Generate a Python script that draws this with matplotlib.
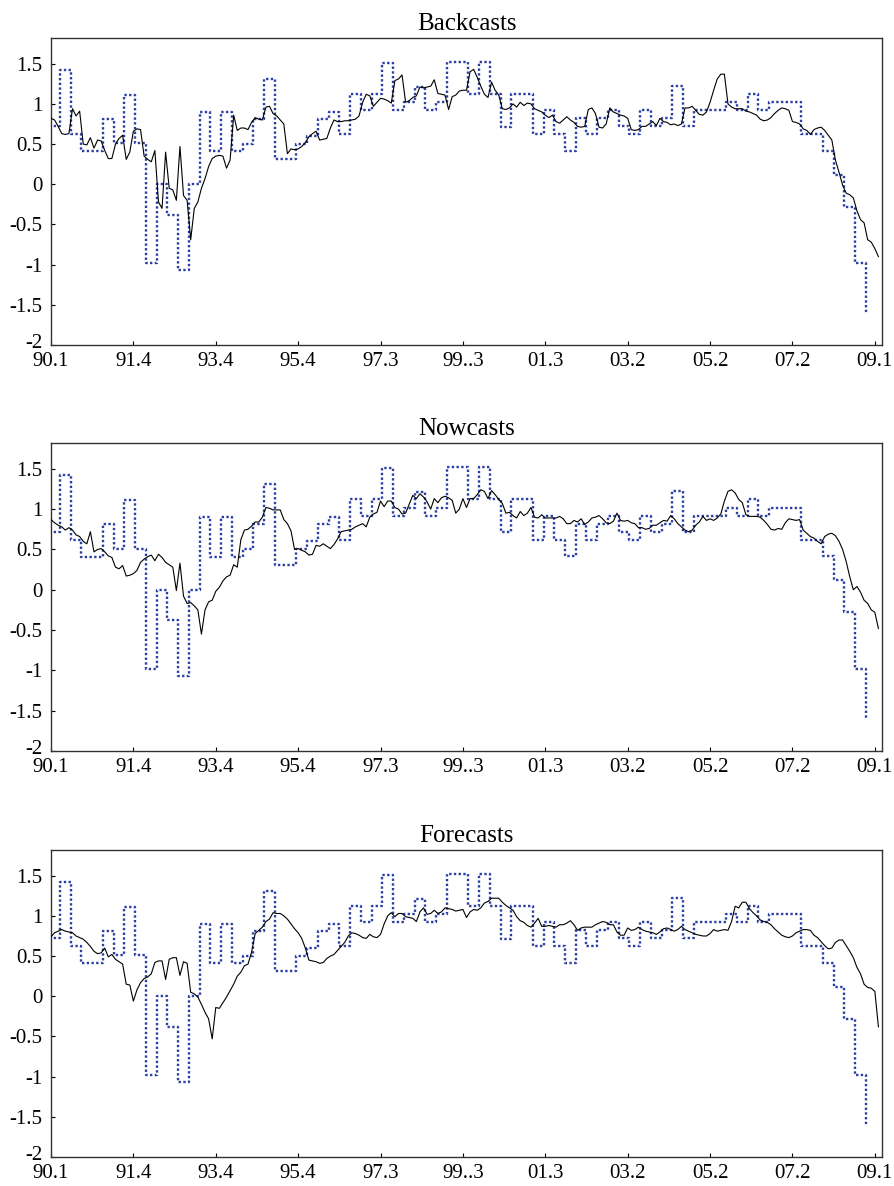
import numpy as np
import matplotlib
matplotlib.use('Agg')
import matplotlib.pyplot as plt
from matplotlib.transforms import ScaledTranslation

# Quarterly GDP growth (blue dotted step), 1990Q1 .. 2009Q1
quarterly_gdp = [
    0.72, 1.42, 0.62, 0.41, 0.41, 0.81, 0.51, 1.11, 0.51, -0.98,
    0.00, -0.38, -1.07, 0.00, 0.90, 0.41, 0.90, 0.41, 0.50, 0.81,
    1.31, 0.31, 0.31, 0.50, 0.60, 0.81, 0.90, 0.62, 1.12, 0.92,
    1.12, 1.51, 0.92, 1.02, 1.21, 0.92, 1.02, 1.52, 1.52, 1.12,
    1.52, 1.12, 0.71, 1.12, 1.12, 0.62, 0.92, 0.62, 0.42, 0.82,
    0.62, 0.82, 0.92, 0.72, 0.62, 0.92, 0.72, 0.82, 1.22, 0.72,
    0.92, 0.92, 0.92, 1.02, 0.92, 1.12, 0.92, 1.02, 1.02, 1.02,
    0.62, 0.62, 0.42, 0.12, -0.28, -0.98, -1.60,
]

# Monthly model estimates (black line)
backcasts = [
    0.82, 0.80, 0.72, 0.63, 0.62, 0.63, 0.94, 0.85, 0.91, 0.50,
    0.49, 0.58, 0.45, 0.55, 0.54, 0.42, 0.32, 0.32, 0.50, 0.57,
    0.61, 0.31, 0.40, 0.66, 0.69, 0.68, 0.35, 0.31, 0.28, 0.42,
    -0.22, -0.30, 0.40, -0.05, -0.07, -0.20, 0.47, -0.14, -0.20, -0.69,
    -0.30, -0.22, -0.05, 0.07, 0.22, 0.32, 0.35, 0.36, 0.35, 0.20,
    0.30, 0.86, 0.67, 0.70, 0.70, 0.68, 0.77, 0.83, 0.81, 0.80,
    0.96, 0.97, 0.88, 0.85, 0.80, 0.75, 0.38, 0.44, 0.43, 0.44,
    0.47, 0.52, 0.59, 0.63, 0.66, 0.55, 0.56, 0.57, 0.70, 0.80,
    0.78, 0.78, 0.79, 0.79, 0.80, 0.81, 0.85, 1.02, 1.12, 1.10,
    0.97, 1.02, 1.07, 1.06, 1.04, 1.01, 1.29, 1.31, 1.36, 1.02,
    1.04, 1.08, 1.10, 1.21, 1.20, 1.21, 1.22, 1.30, 1.13, 1.12,
    1.11, 0.93, 1.09, 1.11, 1.16, 1.17, 1.17, 1.40, 1.43, 1.33,
    1.22, 1.12, 1.08, 1.27, 1.17, 1.11, 0.94, 0.93, 0.95, 1.00,
    0.96, 1.02, 0.98, 1.01, 1.00, 0.94, 0.92, 0.90, 0.86, 0.83,
    0.86, 0.78, 0.76, 0.80, 0.84, 0.80, 0.77, 0.72, 0.71, 0.72,
    0.93, 0.95, 0.88, 0.71, 0.70, 0.75, 0.95, 0.90, 0.88, 0.86,
    0.85, 0.82, 0.68, 0.67, 0.68, 0.72, 0.72, 0.75, 0.78, 0.73,
    0.82, 0.78, 0.77, 0.74, 0.75, 0.73, 0.75, 0.95, 0.95, 0.97,
    0.92, 0.87, 0.86, 0.90, 1.02, 1.17, 1.31, 1.37, 1.37, 1.00,
    0.96, 0.94, 0.94, 0.94, 0.91, 0.90, 0.88, 0.86, 0.81, 0.79,
    0.80, 0.83, 0.88, 0.92, 0.95, 0.94, 0.92, 0.78, 0.77, 0.75,
    0.69, 0.67, 0.62, 0.68, 0.70, 0.71, 0.67, 0.61, 0.55, 0.30,
    0.15, -0.01, -0.11, -0.13, -0.17, -0.33, -0.44, -0.48, -0.69, -0.72,
    -0.80, -0.90,
]

nowcasts = [
    0.87, 0.83, 0.80, 0.78, 0.74, 0.77, 0.74, 0.68, 0.66, 0.60,
    0.57, 0.72, 0.47, 0.50, 0.51, 0.47, 0.42, 0.40, 0.28, 0.26,
    0.30, 0.17, 0.18, 0.20, 0.24, 0.34, 0.38, 0.41, 0.43, 0.36,
    0.44, 0.40, 0.34, 0.31, 0.28, -0.01, 0.33, -0.08, -0.17, -0.16,
    -0.20, -0.25, -0.55, -0.25, -0.15, -0.13, -0.02, 0.03, 0.11, 0.16,
    0.18, 0.31, 0.28, 0.62, 0.74, 0.75, 0.79, 0.84, 0.84, 0.90,
    1.02, 1.01, 0.99, 0.99, 0.99, 0.87, 0.82, 0.73, 0.50, 0.51,
    0.49, 0.47, 0.43, 0.44, 0.55, 0.54, 0.57, 0.54, 0.51, 0.56,
    0.63, 0.72, 0.73, 0.74, 0.75, 0.78, 0.80, 0.82, 0.78, 0.90,
    0.94, 0.96, 1.10, 1.03, 1.10, 1.10, 1.02, 1.00, 0.94, 0.95,
    1.06, 1.17, 1.13, 1.19, 1.15, 1.09, 1.00, 1.13, 1.08, 1.14,
    1.16, 1.14, 1.11, 0.95, 1.00, 1.13, 1.02, 1.13, 1.13, 1.18,
    1.24, 1.22, 1.13, 1.23, 1.18, 1.12, 1.07, 0.95, 0.96, 0.92,
    0.89, 0.97, 0.92, 0.95, 1.02, 0.90, 0.89, 0.93, 0.89, 0.89,
    0.89, 0.89, 0.91, 0.88, 0.82, 0.82, 0.86, 0.84, 0.88, 0.81,
    0.84, 0.89, 0.90, 0.92, 0.88, 0.83, 0.82, 0.85, 0.95, 0.86,
    0.85, 0.86, 0.83, 0.82, 0.77, 0.77, 0.75, 0.76, 0.80, 0.80,
    0.83, 0.86, 0.85, 0.92, 0.88, 0.82, 0.78, 0.74, 0.72, 0.74,
    0.80, 0.84, 0.91, 0.86, 0.88, 0.86, 0.89, 0.94, 1.10, 1.22,
    1.24, 1.20, 1.12, 1.08, 0.93, 0.91, 0.91, 0.91, 0.90, 0.86,
    0.81, 0.75, 0.74, 0.76, 0.75, 0.83, 0.88, 0.87, 0.86, 0.87,
    0.74, 0.70, 0.66, 0.64, 0.60, 0.57, 0.66, 0.69, 0.70, 0.67,
    0.60, 0.50, 0.35, 0.16, 0.00, 0.04, -0.03, -0.13, -0.17, -0.25,
    -0.28, -0.48,
]

forecasts = [
    0.74, 0.79, 0.81, 0.83, 0.81, 0.80, 0.79, 0.75, 0.73, 0.71,
    0.67, 0.62, 0.56, 0.53, 0.54, 0.60, 0.49, 0.52, 0.46, 0.43,
    0.40, 0.15, 0.14, -0.06, 0.08, 0.17, 0.22, 0.24, 0.28, 0.42,
    0.44, 0.44, 0.21, 0.46, 0.48, 0.48, 0.26, 0.43, 0.41, 0.05,
    0.03, -0.01, -0.10, -0.20, -0.28, -0.53, -0.14, -0.15, -0.08, -0.01,
    0.07, 0.15, 0.25, 0.30, 0.38, 0.40, 0.55, 0.78, 0.82, 0.86,
    0.93, 0.96, 1.04, 1.03, 1.03, 1.00, 0.96, 0.90, 0.84, 0.79,
    0.72, 0.60, 0.45, 0.44, 0.43, 0.41, 0.42, 0.47, 0.50, 0.52,
    0.57, 0.62, 0.67, 0.75, 0.79, 0.78, 0.76, 0.73, 0.72, 0.77,
    0.74, 0.73, 0.77, 0.90, 1.00, 1.04, 0.99, 1.03, 1.03, 0.99,
    0.98, 0.97, 0.93, 1.05, 1.10, 1.02, 1.03, 1.07, 1.03, 1.05,
    1.10, 1.09, 1.08, 1.06, 1.07, 1.08, 0.98, 1.05, 1.08, 1.07,
    1.10, 1.16, 1.18, 1.22, 1.22, 1.22, 1.17, 1.13, 1.10, 1.07,
    0.99, 0.94, 0.92, 0.88, 0.86, 0.91, 0.97, 0.87, 0.87, 0.88,
    0.87, 0.86, 0.89, 0.89, 0.91, 0.94, 0.89, 0.82, 0.85, 0.86,
    0.86, 0.86, 0.89, 0.91, 0.93, 0.92, 0.89, 0.89, 0.80, 0.76,
    0.76, 0.85, 0.82, 0.83, 0.86, 0.83, 0.81, 0.80, 0.79, 0.77,
    0.80, 0.84, 0.85, 0.83, 0.81, 0.83, 0.87, 0.83, 0.81, 0.79,
    0.77, 0.76, 0.75, 0.75, 0.78, 0.83, 0.81, 0.82, 0.83, 0.82,
    0.93, 1.12, 1.10, 1.17, 1.17, 1.09, 1.04, 1.00, 0.95, 0.93,
    0.92, 0.89, 0.84, 0.80, 0.76, 0.74, 0.73, 0.75, 0.79, 0.81,
    0.83, 0.83, 0.82, 0.76, 0.73, 0.68, 0.63, 0.59, 0.60, 0.67,
    0.70, 0.70, 0.63, 0.56, 0.48, 0.36, 0.28, 0.15, 0.11, 0.10,
    0.06, -0.38,
]

titles = ['Backcasts', 'Nowcasts', 'Forecasts']
xtick_labels = ['90.1', '91.4', '93.4', '95.4', '97.3', '99..3',
                '01.3', '03.2', '05.2', '07.2', '09.1']
xtick_months = [0, 23, 46, 69, 92, 115, 138, 161, 184, 207, 230]
ytick_values = [-2, -1.5, -1, -0.5, 0, 0.5, 1, 1.5]
ytick_labels = ['-2', '-1.5', '-1', '-0.5', '0', '0.5', '1', '1.5']

plt.rcParams['font.family'] = ['Liberation Serif', 'DejaVu Serif']

fig = plt.figure(figsize=(8.95, 11.86), dpi=100)
W, H = 895.0, 1186.0
panel_px = [(38, 345), (443, 751), (850, 1157)]
left_px, right_px = 51, 882

quarter_idx = np.arange(len(quarterly_gdp))
q_x = quarter_idx * 3 - 0.5
blue = '#2b3ea3'

for title, series, (top, bot) in zip(titles, [backcasts, nowcasts, forecasts], panel_px):
    ax = fig.add_axes([left_px / W, 1 - bot / H, (right_px - left_px) / W, (bot - top) / H])
    m = np.arange(len(series))
    ax.plot(m, series, color='black', lw=0.8, zorder=3)
    ax.plot(q_x, quarterly_gdp, drawstyle='steps-post', color=blue,
            lw=1.7, linestyle=(0, (1.0, 1.0)), zorder=2)
    ax.set_xlim(0, 232)
    ax.set_ylim(-2, 1.82)
    ax.set_xticks(xtick_months)
    ax.set_xticklabels(xtick_labels)
    ax.set_yticks(ytick_values)
    ax.set_yticklabels(ytick_labels)
    ax.tick_params(direction='in', length=3, width=0.8, labelsize=15)
    ax.tick_params(axis='x', pad=5)
    ax.tick_params(axis='y', pad=6)
    # the bottom "-2" label sits a touch higher, just above the x labels
    lab = ax.get_yticklabels()[0]
    lab.set_transform(lab.get_transform() + ScaledTranslation(0, 3 / 72, fig.dpi_scale_trans))
    for s in ax.spines.values():
        s.set_linewidth(1.0)
        s.set_color('#333333')
    ax.set_title(title, fontsize=18, pad=6)

fig.savefig('out.png', dpi=100)
